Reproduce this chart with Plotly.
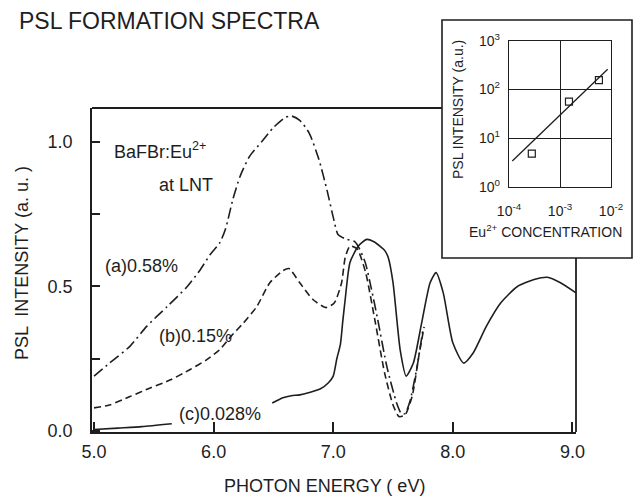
import plotly.graph_objects as go

# ---- PSL formation spectra of BaFBr:Eu2+ at liquid-nitrogen temperature ----
energy_a = [5.0, 5.13, 5.30, 5.44, 5.61, 5.78, 5.89, 5.97, 6.05, 6.10, 6.16, 6.22, 6.30,
            6.40, 6.50, 6.60, 6.65, 6.72, 6.80, 6.88, 6.95, 7.00, 7.04, 7.10, 7.18,
            7.22, 7.27, 7.32, 7.37, 7.45, 7.53, 7.57, 7.60, 7.64, 7.70, 7.75]
psl_a = [0.19, 0.235, 0.293, 0.362, 0.43, 0.50, 0.559, 0.61, 0.65, 0.70, 0.80, 0.88, 0.95,
         1.00, 1.05, 1.085, 1.09, 1.075, 1.03, 0.94, 0.83, 0.74, 0.68, 0.665, 0.655,
         0.63, 0.58, 0.49, 0.39, 0.22, 0.097, 0.06, 0.06, 0.10, 0.22, 0.35]

energy_b = [5.0, 5.13, 5.30, 5.47, 5.64, 5.80, 5.94, 6.05, 6.15, 6.25, 6.36, 6.47, 6.58,
            6.63, 6.72, 6.83, 6.94, 7.01, 7.07, 7.10, 7.14, 7.20, 7.27, 7.35, 7.43,
            7.50, 7.55, 7.60, 7.66, 7.72, 7.76]
psl_b = [0.08, 0.09, 0.119, 0.149, 0.177, 0.212, 0.246, 0.281, 0.33, 0.374, 0.43, 0.513, 0.555,
         0.562, 0.513, 0.455, 0.427, 0.444, 0.513, 0.60, 0.64, 0.63, 0.55, 0.38, 0.20,
         0.09, 0.05, 0.055, 0.12, 0.27, 0.36]

energy_c = [5.0, 5.2, 5.4, 5.65, 6.0, 6.49, 6.58, 6.65, 6.72, 6.80, 6.89, 6.96, 7.00,
            7.03, 7.06, 7.08, 7.10, 7.14, 7.21, 7.28, 7.34, 7.39, 7.43, 7.46, 7.50,
            7.56, 7.61, 7.67, 7.74, 7.81, 7.86, 7.92, 8.00, 8.09, 8.17, 8.28, 8.40,
            8.54, 8.68, 8.79, 8.90, 9.03]
psl_c = [0.005, 0.01, 0.015, 0.025, None, 0.097, 0.115, 0.122, 0.125, 0.133, 0.145, 0.167, 0.19,
         0.25, 0.30, 0.38, 0.455, 0.583, 0.64, 0.663, 0.655, 0.64, 0.625, 0.60, 0.513,
         0.28, 0.19, 0.235, 0.375, 0.513, 0.548, 0.478, 0.305, 0.235, 0.27, 0.362, 0.443,
         0.50, 0.524, 0.532, 0.513, 0.478]

x_ticks = [5, 6, 7, 8, 9]
x_tick_text = ["5.0", "6.0", "7.0", "8.0", "9.0"]
y_ticks = [0, 0.25, 0.5, 0.75, 1.0]
y_tick_text = ["0.0", "", "0.5", "", "1.0"]

# ---- inset: PSL intensity versus Eu2+ concentration ----
conc_points = [2.8e-4, 1.5e-3, 5.8e-3]
intensity_points = [4.8, 56, 155]
conc_fit = [1.16e-4, 8.6e-3]
intensity_fit = [3.37, 258]
inset_x_ticks = [1e-4, 1e-3, 1e-2]
inset_x_text = ["10<sup>-4</sup>", "10<sup>-3</sup>", "10<sup>-2</sup>"]
inset_y_ticks = [1, 10, 100, 1000]
inset_y_text = ["10<sup>0</sup>", "10<sup>1</sup>", "10<sup>2</sup>", "10<sup>3</sup>"]

INK = "#1e1e1e"
FONT = "Liberation Sans, Arial, sans-serif"
W, H = 635, 500


def px(x):
    return x / W


def py(y):
    return 1 - y / H


fig = go.Figure()

curve_style = dict(color=INK, width=1.6, shape="spline", smoothing=0.6)
fig.add_trace(go.Scatter(x=energy_a, y=psl_a, mode="lines",
                         line=dict(dash="11px,4px,2px,4px", **curve_style)))
fig.add_trace(go.Scatter(x=energy_b, y=psl_b, mode="lines",
                         line=dict(dash="7px,4px", **curve_style)))
fig.add_trace(go.Scatter(x=energy_c, y=psl_c, mode="lines", connectgaps=False,
                         line=dict(dash="solid", **curve_style)))

fig.add_trace(go.Scatter(x=conc_fit, y=intensity_fit, mode="lines",
                         line=dict(color=INK, width=1.3), xaxis="x2", yaxis="y2"))
fig.add_trace(go.Scatter(x=conc_points, y=intensity_points, mode="markers",
                         marker=dict(symbol="square-open", size=7, color=INK,
                                     line=dict(width=1.2, color=INK)),
                         xaxis="x2", yaxis="y2"))

fig.update_layout(
    template="none",
    width=W, height=H, autosize=False,
    margin=dict(l=0, r=0, t=0, b=0, pad=0),
    paper_bgcolor="white", plot_bgcolor="rgba(0,0,0,0)",
    showlegend=False,
    font=dict(family=FONT, color=INK),
    xaxis=dict(domain=[px(92), px(576)], range=[4.983, 9.03], anchor="y",
               automargin=False,
               tickvals=x_ticks, ticktext=x_tick_text, ticks="inside", ticklen=10,
               tickwidth=1.5, tickcolor=INK, showline=True, linecolor=INK, linewidth=1.8,
               showgrid=False, zeroline=False, tickfont=dict(size=18, color=INK),
               ticklabelstandoff=2),
    yaxis=dict(domain=[py(432), py(108)], range=[-0.0035, 1.1176], anchor="x",
               automargin=False,
               tickvals=y_ticks, ticktext=y_tick_text, ticks="inside", ticklen=8,
               tickwidth=1.5, tickcolor=INK, showline=True, linecolor=INK, linewidth=1.8,
               showgrid=False, zeroline=False, tickfont=dict(size=18, color=INK),
               ticklabelstandoff=14),
    xaxis2=dict(domain=[px(509), px(611)], type="log", range=[-4, -2], anchor="y2",
                automargin=False,
                tickvals=inset_x_ticks, ticktext=inset_x_text, ticks="",
                showline=True, mirror=True, linecolor=INK, linewidth=1.4,
                showgrid=True, gridcolor=INK, gridwidth=1.2, zeroline=False,
                tickfont=dict(size=14, color=INK), ticklabelstandoff=11),
    yaxis2=dict(domain=[py(186.7), py(40.7)], type="log", range=[0, 3], anchor="x2",
                automargin=False,
                tickvals=inset_y_ticks, ticktext=inset_y_text, ticks="",
                showline=True, mirror=True, linecolor=INK, linewidth=1.4,
                showgrid=True, gridcolor=INK, gridwidth=1.2, zeroline=False,
                tickfont=dict(size=14, color=INK), ticklabelstandoff=5),
)

# frame pieces of the main panel and the inset box
line_style = dict(color=INK, width=1.8)
fig.add_shape(type="line", xref="paper", yref="paper", x0=px(92), x1=px(442),
              y0=py(108), y1=py(108), line=line_style)
fig.add_shape(type="line", xref="paper", yref="paper", x0=px(576), x1=px(576),
              y0=py(258), y1=py(432), line=line_style)
fig.add_shape(type="rect", xref="paper", yref="paper", x0=px(442), x1=px(632),
              y0=py(258), y1=py(20), line=dict(color=INK, width=1.6),
              fillcolor="white", layer="below")

annotations = [
    dict(text="PSL FORMATION SPECTRA", x=px(17), y=py(21), xanchor="left", size=23),
    dict(text="BaFBr:Eu<sup>2+</sup>", x=px(112), y=py(150), xanchor="left", size=18),
    dict(text="at LNT", x=px(157), y=py(185), xanchor="left", size=18),
    dict(text="(a)0.58%", x=px(103), y=py(266), xanchor="left", size=18),
    dict(text="(b)0.15%", x=px(157), y=py(336), xanchor="left", size=18),
    dict(text="(c)0.028%", x=px(177), y=py(414), xanchor="left", size=18),
    dict(text="PHOTON ENERGY ( eV)", x=px(324), y=py(486), xanchor="center", size=18),
    dict(text="PSL  INTENSITY (a. u. )", x=px(22), y=py(263), xanchor="center",
         size=18, textangle=-90),
    dict(text="Eu<sup>2+</sup> CONCENTRATION", x=px(545), y=py(231), xanchor="center",
         size=14),
    dict(text="PSL INTENSITY (a.u.)", x=px(458), y=py(110), xanchor="center",
         size=14, textangle=-90),
]
for a in annotations:
    fig.add_annotation(text=a["text"], x=a["x"], y=a["y"], xref="paper", yref="paper",
                       xanchor=a["xanchor"], yanchor="middle", showarrow=False,
                       textangle=a.get("textangle", 0),
                       font=dict(family=FONT, size=a["size"], color=INK))

fig.write_html("out.html")
